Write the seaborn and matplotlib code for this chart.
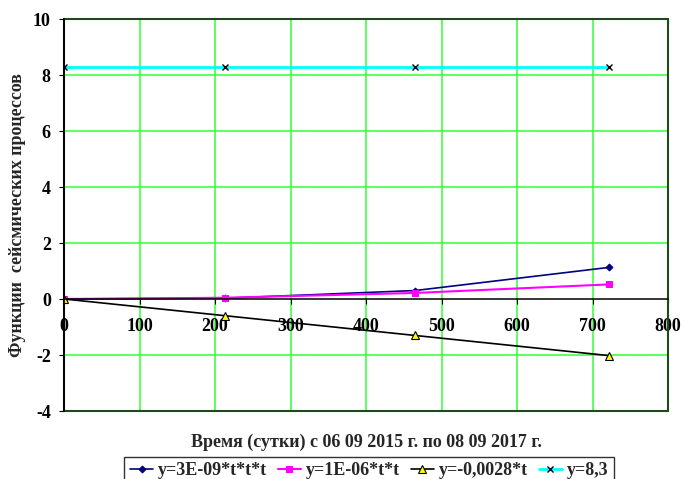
import matplotlib
matplotlib.use("Agg")
import matplotlib.pyplot as plt
import matplotlib.patches as mpatches
import seaborn as sns
import pandas as pd

# Время (сутки) и значения функций в точках наблюдения
t = [0, 213, 465, 722]
cubic = [0.0, 0.029, 0.302, 1.129]
square = [0.0, 0.045, 0.216, 0.521]
linear = [0.0, -0.596, -1.302, -2.022]
const = [8.3, 8.3, 8.3, 8.3]

labels = ["y=3E-09*t*t*t", "y=1E-06*t*t", "y=-0,0028*t", "y=8,3"]

x_ticks = [0, 100, 200, 300, 400, 500, 600, 700, 800]
y_ticks = [-4, -2, 0, 2, 4, 6, 8, 10]

sns.set_style("white")
plt.rcParams['font.family'] = ['Liberation Serif', 'DejaVu Serif']
plt.rcParams['font.weight'] = 'bold'
plt.rcParams['font.size'] = 13
plt.rcParams['axes.unicode_minus'] = False

df = pd.DataFrame({'t': t, 'cubic': cubic, 'square': square,
                   'linear': linear, 'const': const})

fig = plt.figure(figsize=(6.81, 4.79), dpi=100)
ax = fig.add_axes([64 / 681, 1 - 411 / 479, 604 / 681, 392 / 479])

# gridlines first so the lines sit on top
for xv in x_ticks[1:-1]:
    ax.axvline(xv, color='#33ff33', lw=1.1, zorder=0)
for yv in y_ticks[1:-1]:
    if yv != 0:
        ax.axhline(yv, color='#33ff33', lw=1.1, zorder=0)

sns.lineplot(data=df, x='t', y='cubic', ax=ax, color='#000080', lw=1.2,
             marker='D', markersize=3.5, markeredgecolor='#000080', label=labels[0])
sns.lineplot(data=df, x='t', y='square', ax=ax, color='#ff00ff', lw=1.5,
             marker='s', markersize=4.5, markeredgecolor='#ff00ff', label=labels[1])
sns.lineplot(data=df, x='t', y='linear', ax=ax, color='black', lw=1.2,
             marker='^', markersize=5.5, markerfacecolor='#ffff00',
             markeredgecolor='black', markeredgewidth=0.8, label=labels[2])
sns.lineplot(data=df, x='t', y='const', ax=ax, color='#00ffff', lw=2.0,
             marker='x', markersize=4.5, markeredgecolor='black',
             markeredgewidth=1.0, label=labels[3])

ax.set_xlim(0, 800)
ax.set_ylim(-4, 10)
ax.set_xticks(x_ticks)
ax.set_yticks(y_ticks)

# рамка области построения
ax.add_patch(mpatches.Rectangle((0, 0), 1, 1, transform=ax.transAxes, fill=False,
                                edgecolor='#1f4a1f', lw=1.5, clip_on=False, zorder=1))

ax.spines['top'].set_visible(False)
ax.spines['right'].set_visible(False)
ax.spines['bottom'].set_position(('data', 0))
ax.spines['bottom'].set_color('black')
ax.spines['left'].set_color('black')
ax.spines['bottom'].set_linewidth(1.1)
ax.spines['left'].set_linewidth(1.3)
ax.spines['left'].set_zorder(3)

ax.tick_params(axis='x', direction='out', length=3.5, width=0.8, pad=10,
               colors='black', labelsize=13)
ax.tick_params(axis='y', direction='out', length=3.5, width=0.8, pad=6,
               colors='black', labelsize=13)
ax.tick_params(bottom=True, left=True)
for lab in ax.get_xticklabels() + ax.get_yticklabels():
    lab.set_fontweight('bold')

ax.set_xlabel("Время (сутки) с 06 09 2015 г. по 08 09 2017 г.", fontsize=13, fontweight='bold')
ax.xaxis.set_label_coords(0.5, -0.079)
ax.xaxis.label.set_va('center')
ax.set_ylabel("Функции  сейсмических процессов", fontsize=13, fontweight='bold')
ax.yaxis.set_label_coords(-0.077, 0.5)
ax.yaxis.label.set_va('center')

handles, labs = ax.get_legend_handles_labels()
ax.get_legend().remove()
leg = fig.legend(handles, labs, loc='upper center', bbox_to_anchor=(369 / 681, 1 - 457 / 479),
                 ncol=4, frameon=True, fancybox=False, edgecolor='black',
                 handlelength=1.3, handletextpad=0.25, columnspacing=0.6,
                 borderpad=0.3, borderaxespad=0, prop={'weight': 'bold', 'size': 13})
leg.get_frame().set_linewidth(1.0)

fig.savefig("out.png", dpi=100)
